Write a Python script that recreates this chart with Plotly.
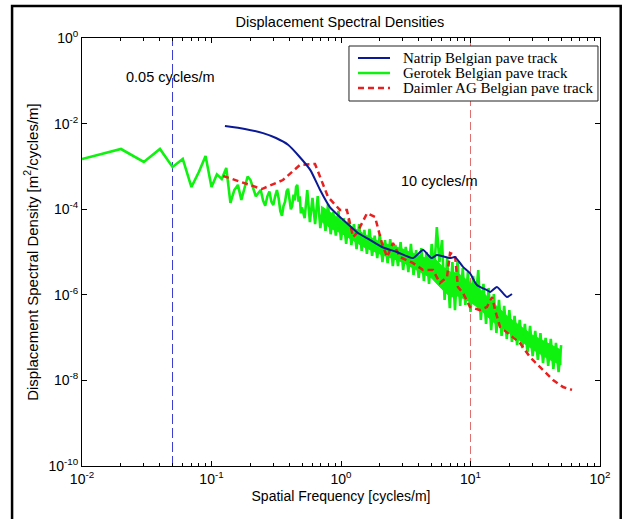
import plotly.graph_objects as go

# ---------------- data ----------------
natrip_f = [0.127, 0.181, 0.25, 0.315, 0.39, 0.48, 0.58, 0.69, 0.82, 1.04, 1.33, 1.68, 2.07,
            2.7, 3.6, 4.3, 5.0, 5.5, 6.95, 7.6, 8.75, 9.9, 11.2, 13.4, 14.2, 16.0, 19.1, 20.9]
natrip_psd = [8.8e-3, 7.5e-3, 6.0e-3, 4.6e-3, 3.2e-3, 1.66e-3, 8.2e-4, 2.8e-4, 1.12e-4, 5.6e-5,
              2.9e-5, 1.9e-5, 1.31e-5, 1.0e-5, 7.2e-6, 1.11e-5, 7.2e-6, 8.5e-6, 7.2e-6, 7.6e-6,
              4.5e-6, 3.2e-6, 1.69e-6, 1.29e-6, 1.16e-6, 1.52e-6, 8.9e-7, 1.04e-6]

gerotek_f = [0.01, 0.02, 0.03, 0.04, 0.05, 0.06, 0.07, 0.08, 0.09, 0.10,
             0.11, 0.12, 0.13, 0.14, 0.15, 0.16, 0.17, 0.18, 0.19, 0.20,
             0.21, 0.22, 0.23, 0.24, 0.25, 0.26, 0.27, 0.28, 0.29, 0.30,
             0.31, 0.32, 0.33, 0.34, 0.35, 0.36, 0.37, 0.38, 0.39, 0.40,
             0.41, 0.42, 0.43, 0.44, 0.45, 0.46, 0.47, 0.48, 0.49, 0.50,
             0.524, 0.549, 0.575, 0.602, 0.631, 0.661, 0.692, 0.724, 0.759, 0.794,
             0.832, 0.871, 0.912, 0.955, 1.000, 1.047, 1.096, 1.148, 1.202, 1.259,
             1.318, 1.380, 1.445, 1.514, 1.585, 1.660, 1.738, 1.820, 1.905, 1.995,
             2.089, 2.188, 2.291, 2.399, 2.512, 2.630, 2.754, 2.884, 3.020, 3.162,
             3.311, 3.467, 3.631, 3.802, 3.981, 4.169, 4.365, 4.571, 4.786, 5.012,
             5.248, 5.495, 5.754, 6.026, 6.310, 6.607, 6.918, 7.244, 7.586, 7.943,
             8.318, 8.710, 9.120, 9.550, 10.00, 10.47, 10.96, 11.48, 12.02, 12.59,
             13.18, 13.80, 14.45, 15.14, 15.85, 16.60, 17.38, 18.20, 19.05, 19.95,
             20.89, 21.88, 22.91, 23.99, 25.12, 26.30, 27.54, 28.84, 30.20, 31.62,
             33.11, 34.67, 36.31, 38.02, 39.81, 41.69, 43.65, 45.71, 47.86, 50.12]
gerotek_psd = [1.49e-3, 2.55e-3, 1.27e-3, 2.55e-3, 9.7e-4, 1.49e-3, 3.3e-4, 7.5e-4, 1.75e-3, 3.3e-4,
               6.5e-4, 5.1e-4, 9.2e-4, 1.4e-4, 2.8e-4, 3.7e-4, 1.64e-4, 3.0e-4, 5.8e-4, 4.8e-4,
               3.0e-4, 2.0e-4, 2.4e-4, 2.8e-4, 1.6e-4, 1.2e-4, 2.0e-4, 2.6e-4, 1.5e-4, 1.25e-4,
               2.0e-4, 2.8e-4, 1.8e-4, 9.0e-5, 7.0e-5, 1.2e-4, 1.5e-4, 2.6e-4, 3.0e-4, 1.6e-4,
               1.0e-4, 1.2e-4, 2.2e-4, 1.6e-4, 3.3e-4, 3.7e-4, 1.5e-4, 2.0e-4, 8.0e-5, 1.1e-4,
               6.2e-5, 2.81e-4, 5.0e-5, 1.83e-4, 4.5e-5, 2.03e-4, 3.6e-5, 1.07e-4, 3.1e-5, 1.32e-4,
               2.6e-5, 8.6e-5, 2.4e-5, 9.1e-5, 1.9e-5, 6.2e-5, 1.54e-5, 5.9e-5, 1.46e-5, 4.5e-5,
               1.17e-5, 4.5e-5, 1.06e-5, 3.3e-5, 9.0e-6, 3.45e-5, 8.1e-6, 2.4e-5, 7.2e-6, 2.6e-5,
               5.8e-6, 1.9e-5, 5.5e-6, 2.0e-5, 4.7e-6, 1.46e-5, 4.7e-6, 1.7e-5, 3.8e-6, 1.31e-5,
               3.4e-6, 1.54e-5, 2.9e-6, 1.11e-5, 2.5e-6, 1.24e-5, 2.1e-6, 1.0e-5, 1.8e-6, 1.54e-5,
               3.8e-6, 3.8e-5, 5.8e-6, 1.9e-5, 7.6e-7, 7.6e-6, 4.9e-7, 5.8e-6, 4.4e-7, 6.2e-6,
               5.5e-7, 4.2e-6, 5.8e-7, 3.4e-6, 4.0e-7, 2.75e-6, 7.6e-7, 3.8e-6, 2.6e-7, 1.8e-6,
               2.1e-7, 1.44e-6, 1.5e-7, 1.04e-6, 1.28e-7, 7.6e-7, 1.09e-7, 5.5e-7, 9.3e-8, 4.4e-7,
               7.9e-8, 3.2e-7, 6.7e-8, 2.6e-7, 5.7e-8, 2.1e-7, 4.6e-8, 1.87e-7, 3.7e-8, 1.43e-7,
               3.0e-8, 1.28e-7, 2.55e-8, 9.8e-8, 2.17e-8, 9.3e-8, 1.85e-8, 7.5e-8, 1.57e-8, 6.7e-8]

# dense core of the Gerotek band (where the trace is solid green)
gerotek_band_f = [0.7, 0.85, 1.0, 1.5, 2.0, 3.0, 4.5, 5.0, 6.0, 7.0, 8.0, 10, 12, 15, 20, 30, 40, 50]
gerotek_band_upper = [1.19e-4, 8.1e-5, 5.6e-5, 2.64e-5, 1.71e-5, 1.17e-5, 7.2e-6, 8.5e-6,
                      4.7e-6, 3.4e-6, 3.2e-6, 1.89e-6, 1.29e-6, 6.4e-7, 2.87e-7, 1.15e-7,
                      7.1e-8, 5.1e-8]
gerotek_band_lower = [5.3e-5, 3.45e-5, 2.78e-5, 1.31e-5, 9.0e-6, 5.8e-6, 2.9e-6, 2.47e-6,
                      1.37e-6, 8.9e-7, 9.4e-7, 6.8e-7, 4.4e-7, 2.31e-7, 1.28e-7, 5.4e-8,
                      3.16e-8, 2.3e-8]

daimler_f = [0.123, 0.245, 0.356, 0.482, 0.63, 0.794, 0.982, 1.11, 1.24, 1.33, 1.59, 1.83,
             2.07, 2.27, 2.52, 2.86, 3.6, 4.3, 5.13, 5.81, 6.59, 6.95, 7.59, 8.0, 8.75, 9.91,
             11.8, 13.4, 14.7, 15.5, 16.9, 21.3, 24.1, 28.8, 34.4, 43.4, 51.8, 60.8]
daimler_psd = [5.97e-4, 2.96e-4, 4.8e-4, 1.08e-3, 1.14e-3, 1.93e-4, 9.6e-5, 9.6e-5, 2.24e-5,
               2.78e-5, 8.1e-5, 6.6e-5, 1.62e-5, 7.6e-6, 1.62e-5, 7.6e-6, 5.5e-6, 3.8e-6, 3.8e-6,
               1.89e-6, 2.6e-6, 9.5e-6, 8.5e-6, 1.52e-6, 1.10e-6, 5.2e-7, 4.4e-7, 5.2e-7, 8.9e-7,
               4.4e-7, 1.77e-7, 1.03e-7, 7.5e-8, 3.5e-8, 2.06e-8, 1.02e-8, 7.0e-9, 6.0e-9]

series_names = ["Natrip Belgian pave track", "Gerotek Belgian pave track",
                "Daimler AG Belgian pave track"]
marker_freqs = [0.05, 10]
marker_labels = ["0.05 cycles/m", "10 cycles/m"]
y_span = [1e-10, 1]

x_tickvals = [1e-2, 1e-1, 1e0, 1e1, 1e2]
x_ticktext = ["10<sup>-2</sup>", "10<sup>-1</sup>", "10<sup>0</sup>", "10<sup>1</sup>", "10<sup>2</sup>"]
y_tickvals = [1e0, 1e-2, 1e-4, 1e-6, 1e-8, 1e-10]
y_ticktext = ["10<sup>0</sup>", "10<sup>-2</sup>", "10<sup>-4</sup>", "10<sup>-6</sup>",
              "10<sup>-8</sup>", "10<sup>-10</sup>"]
x_minor = [m * d for d in [1e-2, 1e-1, 1e0, 1e1] for m in range(2, 10)]

# ---------------- styles ----------------
SANS = "Arial, Liberation Sans, sans-serif"
SERIF = "Times New Roman, Liberation Serif, serif"
NAVY = "#0a1a96"
GREEN = "#0ff20f"
RED = "#e82020"
styles = [dict(color=NAVY, width=2),
          dict(color=GREEN, width=2.6),
          dict(color=RED, width=2.5, dash="6px,4px")]

fig = go.Figure()

fig.add_trace(go.Scatter(x=[marker_freqs[0]] * 2, y=y_span, mode="lines",
                         line=dict(color="#3b3bd0", width=1, dash="10px,4px"),
                         showlegend=False, hoverinfo="skip"))
fig.add_trace(go.Scatter(x=[marker_freqs[1]] * 2, y=y_span, mode="lines",
                         line=dict(color="#e07070", width=1, dash="8px,4px"),
                         showlegend=False, hoverinfo="skip"))

fig.add_trace(go.Scatter(x=gerotek_band_f + gerotek_band_f[::-1],
                         y=gerotek_band_upper + gerotek_band_lower[::-1],
                         mode="lines", fill="toself", fillcolor=GREEN,
                         line=dict(color=GREEN, width=1), showlegend=False,
                         hoverinfo="skip"))
fig.add_trace(go.Scatter(x=gerotek_f, y=gerotek_psd, mode="lines",
                         name=series_names[1], line=styles[1], showlegend=False))
fig.add_trace(go.Scatter(x=daimler_f, y=daimler_psd, mode="lines",
                         name=series_names[2], line=styles[2], showlegend=False))
fig.add_trace(go.Scatter(x=natrip_f, y=natrip_psd, mode="lines",
                         name=series_names[0], showlegend=False,
                         line=dict(**styles[0], shape="spline", smoothing=0.6)))

axis_common = dict(showline=True, linecolor="black", linewidth=1, mirror="ticks",
                   ticks="inside", tickcolor="black", ticklen=5, showgrid=False,
                   zeroline=False, tickfont=dict(family=SANS, size=14, color="black"))

fig.update_xaxes(type="log", range=[-2, 2], tickmode="array", tickvals=x_tickvals,
                 ticktext=x_ticktext,
                 minor=dict(tickmode="array", tickvals=x_minor, ticks="inside",
                            ticklen=3, tickcolor="black"),
                 title=dict(text="Spatial Frequency [cycles/m]", standoff=5,
                            font=dict(family=SANS, size=14, color="black")),
                 **axis_common)
fig.update_yaxes(type="log", range=[-10, 0], tickmode="array", tickvals=y_tickvals,
                 ticktext=y_ticktext,
                 title=dict(text="Displacement Spectral Density [m<sup>2</sup>/cycles/m]",
                            standoff=6, font=dict(family=SANS, size=15, color="black")),
                 **axis_common)

fig.add_annotation(x=0.170, y=0.909, xref="paper", yref="paper", text=marker_labels[0],
                   xanchor="center", yanchor="middle", showarrow=False,
                   font=dict(family=SANS, size=14.5, color="black"))
fig.add_annotation(x=0.691, y=0.666, xref="paper", yref="paper", text=marker_labels[1],
                   xanchor="center", yanchor="middle", showarrow=False,
                   font=dict(family=SANS, size=14.5, color="black"))

# legend box (drawn to match the compact MATLAB legend)
fig.add_shape(type="rect", xref="paper", yref="paper", x0=0.5154, x1=0.9961,
              y0=0.8528, y1=0.9813, line=dict(color="#222222", width=1),
              fillcolor="white", layer="above")
row_y = [0.9533, 0.9182, 0.8832]
for name, st, yy in zip(series_names, styles, row_y):
    fig.add_shape(type="line", xref="paper", yref="paper", x0=0.5328, x1=0.5946,
                  y0=yy, y1=yy, line=st, layer="above")
    fig.add_annotation(x=0.6158, y=yy, xref="paper", yref="paper", text=name,
                       xanchor="left", yanchor="middle", showarrow=False,
                       font=dict(family=SERIF, size=15, color="black"))

# outer frame of the figure
fig.add_shape(type="rect", xref="paper", yref="paper", x0=-0.135, x1=1.040,
              y0=-0.14, y1=1.075, line=dict(color="black", width=2.5))

fig.update_layout(
    width=625, height=519,
    margin=dict(l=82, r=25, t=38, b=53),
    paper_bgcolor="white", plot_bgcolor="white",
    title=dict(text="Displacement Spectral Densities", x=0.498, xref="paper",
               xanchor="center", y=1 - 22 / 519, yanchor="middle",
               font=dict(family=SANS, size=14.5, color="black")),
    showlegend=False,
)

fig.write_html("out.html")
